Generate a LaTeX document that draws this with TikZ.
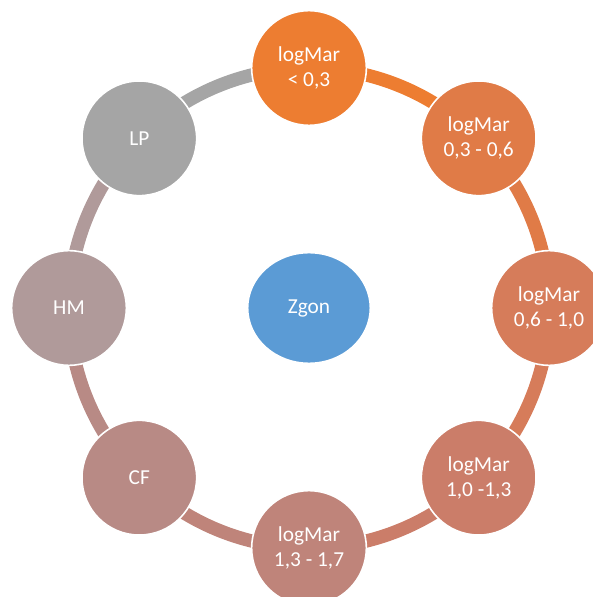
\documentclass[tikz,border=0pt]{standalone}
\usepackage{fontspec}
\setmainfont{Carlito}
\usetikzlibrary{backgrounds}
\usetikzlibrary{shapes.geometric}
\definecolor{c1}{HTML}{ED7D31}
\definecolor{c2}{HTML}{E07B47}
\definecolor{c3}{HTML}{D67C5A}
\definecolor{c4}{HTML}{CB7D69}
\definecolor{c5}{HTML}{BF847A}
\definecolor{c6}{HTML}{B88A85}
\definecolor{c7}{HTML}{B09A9A}
\definecolor{c8}{HTML}{A5A5A5}
\definecolor{zgon}{HTML}{5B9BD5}
\tikzset{
  stage/.style={circle, fill=#1, draw=white, line width=1.2pt, minimum size=86pt,
    inner sep=0pt, text=white, align=center, font=\fontsize{16}{18.8}\selectfont},
  link/.style={draw=#1, line width=10pt}
}

\begin{document}
\begin{tikzpicture}[x=0.75pt,y=0.75pt]
\useasboundingbox (0,0) rectangle (593,597);
\coordinate (ring) at (309,289);
\node[stage=zgon, ellipse, minimum width=92pt, minimum height=83pt] (zgon) at (ring) {Zgon};
\foreach \ang/\col/\name/\txt in {90/c1/n1/{logMar\\< 0,3}, 45/c2/n2/{logMar\\0,3 - 0,6},
  0/c3/n3/{logMar\\0,6 - 1,0}, -45/c4/n4/{logMar\\1,0 -1,3}, -90/c5/n5/{logMar\\1,3 - 1,7},
  -135/c6/n6/{CF}, 180/c7/n7/{HM}, 135/c8/n8/{LP}}
  \node[stage=\col] (\name) at ([shift={(\ang:240)}]ring) {\txt};
\begin{scope}[on background layer]
\foreach \a/\b/\col in {n1/n2/c1, n2/n3/c2, n3/n4/c3, n4/n5/c4, n5/n6/c5, n6/n7/c6, n7/n8/c7, n8/n1/c8}
  \draw[link=\col] (\a.center) to[bend left=22.5, looseness=0.885] (\b.center);
\end{scope}
\end{tikzpicture}
\end{document}
